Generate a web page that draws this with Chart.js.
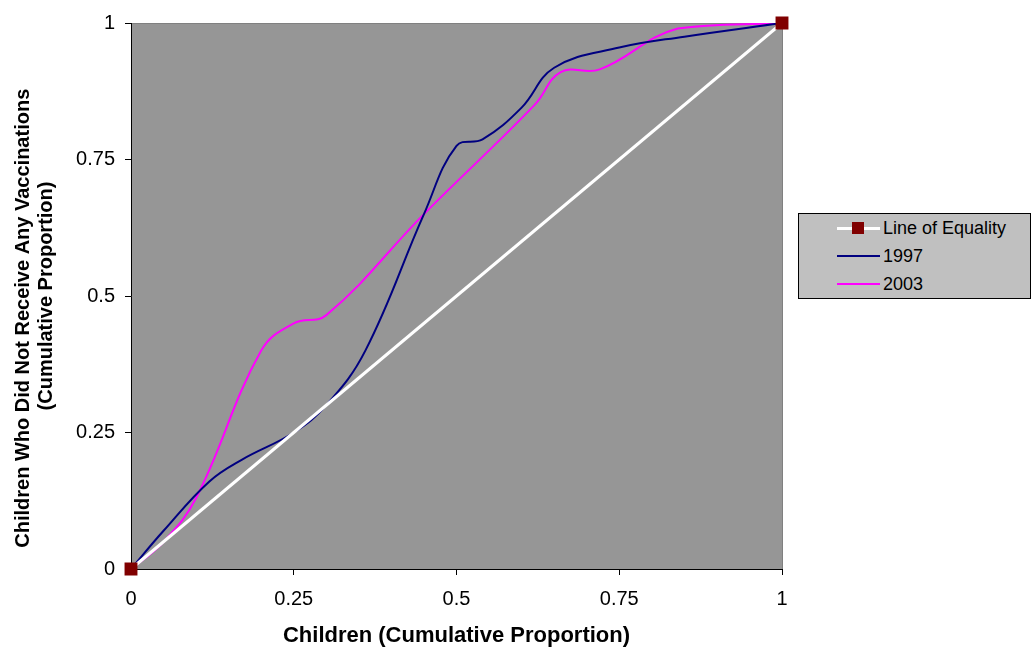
<!DOCTYPE html>
<html>
<head>
<meta charset="utf-8">
<script src="https://cdn.jsdelivr.net/npm/chart.js@4/dist/chart.umd.min.js"></script>
<style>
    body { margin: 0; background: #fff; font-family: "Liberation Sans", Arial, sans-serif; }
    #wrap { position: relative; width: 1031px; height: 649px; }
    #legend {
        position: absolute; left: 798px; top: 213px; width: 231px; height: 84px;
        background: #c0c0c0; border: 1px solid #000; font-size: 18px; color: #000;
    }
    .item { position: absolute; left: 38px; height: 22px; line-height: 22px; }
    .swatch { position: absolute; left: 0; top: 10px; width: 43px; height: 2px; }
    .label { position: absolute; left: 46px; white-space: nowrap; }
</style>
</head>
<body>
<div id="wrap">
    <canvas id="lorenz" width="1031" height="649"></canvas>
    <div id="legend">
        <div class="item" style="top:3px">
            <div class="swatch" style="background:#fff;height:3px;top:10px"></div>
            <div style="position:absolute;left:15px;top:5px;width:12px;height:12px;background:#800000"></div>
            <span class="label">Line of Equality</span>
        </div>
        <div class="item" style="top:31px">
            <div class="swatch" style="background:#000080"></div>
            <span class="label">1997</span>
        </div>
        <div class="item" style="top:59px">
            <div class="swatch" style="background:#ff00ff"></div>
            <span class="label">2003</span>
        </div>
    </div>
</div>
<script>
// Cumulative proportions
const equalityX = [0, 1];
const equalityY = [0, 1];

const x1997 = [0, 0.05, 0.12, 0.17, 0.25, 0.3, 0.36, 0.45, 0.5, 0.54, 0.6, 0.65, 0.75, 0.85, 1];
const y1997 = [0, 0.07, 0.16, 0.2, 0.25, 0.3, 0.4, 0.65, 0.775, 0.787, 0.845, 0.918, 0.955, 0.975, 1];

const x2003 = [0, 0.05, 0.1, 0.2, 0.25, 0.3, 0.45, 0.62, 0.66, 0.72, 0.84, 1];
const y2003 = [0, 0.05, 0.13, 0.4, 0.45, 0.465, 0.65, 0.85, 0.91, 0.915, 0.99, 1];

const tickValues = [0, 0.25, 0.5, 0.75, 1];

function toPoints(xs, ys) {
    return xs.map((x, i) => ({ x: x, y: ys[i] }));
}

// grey plot background + frame
const plotBackground = {
    id: "plotBackground",
    beforeDraw(chart) {
        const { ctx, chartArea: a } = chart;
        ctx.save();
        ctx.fillStyle = "#969696";
        ctx.fillRect(a.left, a.top, a.right - a.left, a.bottom - a.top);
        ctx.strokeStyle = "#808080";
        ctx.lineWidth = 1;
        ctx.strokeRect(a.left + 0.5, a.top + 0.5, a.right - a.left, a.bottom - a.top);
        ctx.restore();
    }
};

const tickFont = { family: "'Liberation Sans', Arial, sans-serif", size: 20 };
const titleFont = { family: "'Liberation Sans', Arial, sans-serif", size: 20, weight: "bold", lineHeight: 1.15 };

// trailing spaces nudge the first rotated title line down a bit, like the original
const pad = "        ";

new Chart(document.getElementById("lorenz"), {
    type: "line",
    data: {
        datasets: [
            {
                label: "Line of Equality",
                data: toPoints(equalityX, equalityY),
                borderColor: "#ffffff",
                borderWidth: 3,
                pointStyle: "rect",
                pointRadius: 7,
                pointBackgroundColor: "#800000",
                pointBorderColor: "#800000",
                tension: 0,
                clip: false,
                order: 1
            },
            {
                label: "1997",
                data: toPoints(x1997, y1997),
                borderColor: "#000080",
                borderWidth: 2,
                pointRadius: 0,
                tension: 0.4,
                order: 2
            },
            {
                label: "2003",
                data: toPoints(x2003, y2003),
                borderColor: "#ff00ff",
                borderWidth: 2,
                pointRadius: 0,
                tension: 0.4,
                order: 3
            }
        ]
    },
    options: {
        responsive: false,
        animation: false,
        layout: { padding: { top: 23, right: 249, left: 0, bottom: 0 } },
        plugins: {
            legend: { display: false },
            tooltip: { enabled: false }
        },
        scales: {
            x: {
                type: "linear",
                min: 0, max: 1,
                afterBuildTicks: s => { s.ticks = tickValues.map(v => ({ value: v })); },
                afterFit: s => { s.height = 80; },
                ticks: { color: "#000", font: tickFont, padding: 12, callback: v => String(v) },
                grid: { drawOnChartArea: false, color: "#000", tickLength: 6 },
                border: { color: "#000" },
                title: {
                    display: true, text: "Children (Cumulative Proportion)", color: "#000",
                    font: { ...titleFont, size: 22 }, padding: { top: 10, bottom: 0 }
                }
            },
            y: {
                type: "linear",
                min: 0, max: 1,
                afterBuildTicks: s => { s.ticks = tickValues.map(v => ({ value: v })); },
                afterFit: s => { s.width = 131; },
                ticks: { color: "#000", font: tickFont, padding: 10, callback: v => String(v) },
                grid: { drawOnChartArea: false, color: "#000", tickLength: 6 },
                border: { color: "#000" },
                title: {
                    display: true,
                    text: ["Children Who Did Not Receive Any Vaccinations" + pad, "(Cumulative Proportion)"],
                    color: "#000", font: titleFont, padding: { top: 12, bottom: 0 }
                }
            }
        }
    },
    plugins: [plotBackground]
});
</script>
</body>
</html>
